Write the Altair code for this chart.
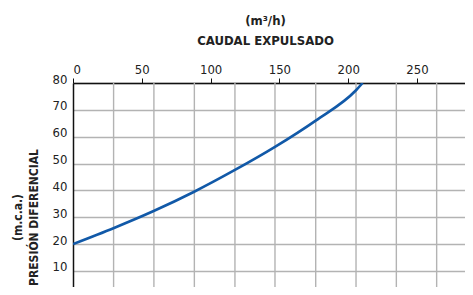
import altair as alt
import pandas as pd

# curve: caudal expulsado (m3/h) vs presion diferencial (m.c.a.)
flow = [0, 29.8, 58.6, 87.7, 117.7, 146.8, 176.4, 205.7, 210.5]
pressure = [20, 26.0, 32.3, 39.4, 47.6, 56.2, 66.0, 77.3, 80]

# vertical grid lines of the original chart (not aligned with tick labels)
grid_x = [29.5, 58.8, 88.2, 117.7, 146.8, 176.4, 205.7, 235.0, 264.3]

x_ticks = [0, 50, 100, 150, 200, 250]
y_ticks = [0, 10, 20, 30, 40, 50, 60, 70, 80]

FONT = "DejaVu Sans Condensed"

curve = pd.DataFrame({"flow": flow, "pressure": pressure})
grid = pd.DataFrame({"gx": grid_x})

x_scale = alt.Scale(domain=[0, 284.9], nice=False, zero=False)
y_scale = alt.Scale(domain=[4.0, 80], nice=False, zero=False)

x_axis = alt.Axis(
    orient="top",
    values=x_ticks,
    grid=False,
    tickSize=5,
    tickColor="#111",
    tickWidth=1,
    domainColor="#111",
    domainWidth=1.5,
    labelPadding=2,
    labelFont=FONT,
    labelFontSize=13,
    labelColor="#222",
    title=["(m³/h)", "CAUDAL EXPULSADO"],
    titleFont=FONT,
    titleFontSize=13,
    titleFontWeight="bold",
    titleColor="#222",
    titleLineHeight=20,
    titleX=192,
    titleY=-69,
    titleAlign="center",
    titleBaseline="top",
    titleAngle=0,
)

y_axis = alt.Axis(
    orient="left",
    values=y_ticks,
    grid=True,
    gridColor="#b3b3b3",
    gridWidth=1.4,
    tickSize=0,
    domainColor="#111",
    domainWidth=1.5,
    labelPadding=6,
    labelOffset=-4,
    labelFont=FONT,
    labelFontSize=13,
    labelColor="#222",
    title=["(m.c.a.)", "PRESIÓN DIFERENCIAL"],
    titleFont=FONT,
    titleFontSize=12,
    titleFontWeight="bold",
    titleColor="#222",
    titleLineHeight=16,
    titleAngle=-90,
    titleX=-61,
    titleY=134,
    titleAlign="center",
    titleBaseline="top",
)

rules = alt.Chart(grid).mark_rule(color="#b3b3b3", strokeWidth=1.4).encode(
    x=alt.X("gx:Q", scale=x_scale, axis=x_axis)
)

line = alt.Chart(curve).mark_line(
    color="#1159a8", strokeWidth=2.6, interpolate="monotone", clip=True
).encode(
    x=alt.X("flow:Q", scale=x_scale, axis=x_axis),
    y=alt.Y("pressure:Q", scale=y_scale, axis=y_axis),
)

chart = alt.layer(rules, line).properties(
    width=392,
    height=204,
    autosize=alt.AutoSizeParams(type="none"),
    padding={"left": 65, "top": 75, "right": 0, "bottom": 0},
    background="white",
).configure_view(stroke=None)

chart.save("out.html", embed_options={"renderer": "svg", "actions": False})
